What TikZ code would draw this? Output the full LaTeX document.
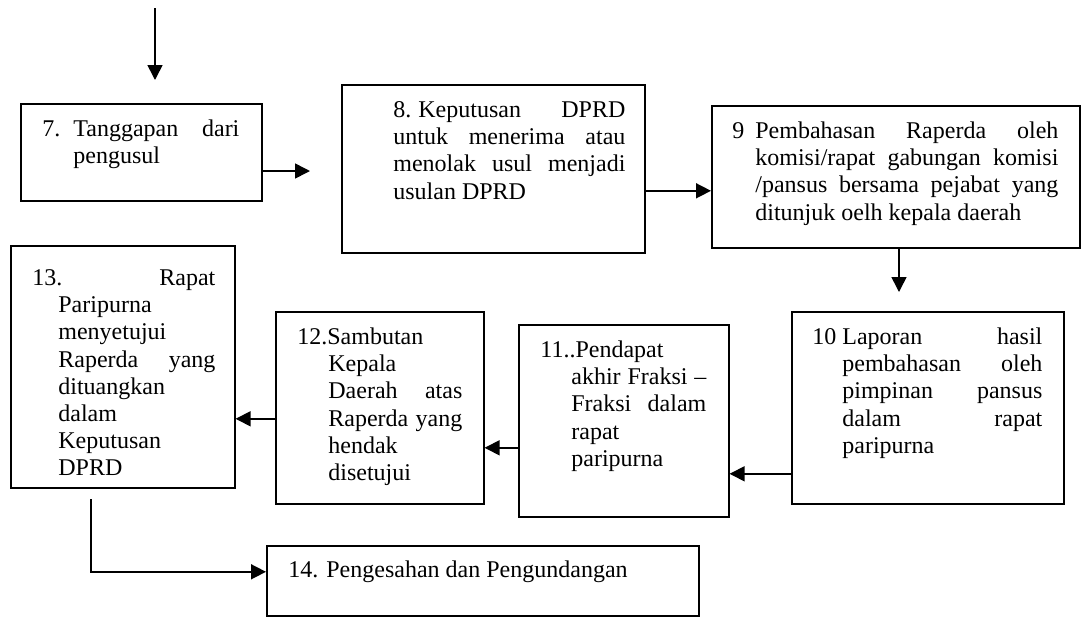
\documentclass[tikz,border=0pt]{standalone}
\usepackage{fontspec}
\setmainfont{Liberation Serif}
\usetikzlibrary{arrows.meta,calc}

\begin{document}
\begin{tikzpicture}[x=0.5pt, y=-0.5pt,
    box/.style={draw, line width=0.8pt, anchor=north west, inner sep=0pt},
    txt/.style={anchor=north west, inner sep=0pt, align=justify,
        font=\fontsize{12}{13.6}\selectfont,
        execute at begin node={\tolerance=10000\hbadness=10000\relax}},
    arr/.style={line width=0.8pt, -{Triangle[length=7.5pt,width=7.5pt]}}]
    \useasboundingbox (0,0) rectangle (1084,617);

    \node[box, minimum width=120.5pt, minimum height=48.5pt] (b7) at (20,103) {};
    \node[box, minimum width=151.5pt, minimum height=84pt] (b8) at (341,84) {};
    \node[box, minimum width=184pt, minimum height=71pt] (b9) at (711,105) {};
    \node[box, minimum width=136pt, minimum height=96pt] (b10) at (791,311) {};
    \node[box, minimum width=105pt, minimum height=96pt] (b11) at (518,324) {};
    \node[box, minimum width=104pt, minimum height=96pt] (b12) at (275,311) {};
    \node[box, minimum width=112pt, minimum height=121pt] (b13) at (10,245) {};
    \node[box, minimum width=216pt, minimum height=35pt] (b14) at (266,545) {};

    \node[txt, text width=98.5pt] (t7) at ([shift={(22,14)}]b7.north west)
        {\strut\hangindent=15.5pt\hangafter=1 \makebox[15.5pt][l]{7.}Tanggapan dari\break pengusul\par};
    \node[txt, text width=116pt] (t8) at ([shift={(52,14)}]b8.north west)
        {\strut\makebox[12.5pt][l]{8.}Keputusan DPRD\break untuk menerima atau\break menolak usul menjadi\break usulan DPRD\par};
    \node[txt, text width=163pt] (t9) at ([shift={(21,14)}]b9.north west)
        {\strut\hangindent=11.5pt\hangafter=1 \makebox[11.5pt][l]{9}Pembahasan Raperda oleh\break komisi/rapat gabungan komisi\break /pansus bersama pejabat yang\break ditunjuk oelh kepala daerah\par};
    \node[txt, text width=115pt] (t10) at ([shift={(21,14)}]b10.north west)
        {\strut\hangindent=15pt\hangafter=1 \makebox[15pt][l]{10}Laporan hasil\break pembahasan oleh\break pimpinan pansus\break dalam rapat\break paripurna\par};
    \node[txt, text width=83pt] (t11) at ([shift={(22,14)}]b11.north west)
        {\strut\hangindent=15.5pt\hangafter=1 11..Pendapat\hfil\break akhir Fraksi –\break Fraksi dalam\break rapat\hfil\break paripurna\par};
    \node[txt, text width=82.5pt] (t12) at ([shift={(22,14)}]b12.north west)
        {\strut\hangindent=15.5pt\hangafter=1 12.Sambutan\hfil\break Kepala\hfil\break Daerah atas\break Raperda yang\break hendak\hfil\break disetujui\par};
    \node[txt, text width=91.5pt] (t13) at ([shift={(22,21)}]b13.north west)
        {\strut\hangindent=13pt\hangafter=1 \makebox[13pt][l]{13.}\hfill Rapat\break Paripurna\hfil\break menyetujui\hfil\break Raperda yang\break dituangkan\hfil\break dalam\hfil\break Keputusan\hfil\break DPRD\par};
    \node[txt, text width=190pt] (t14) at ([shift={(22,13)}]b14.north west)
        {\strut 14. Pengesahan dan Pengundangan\par};

    \coordinate (in7) at (155,8);
    \coordinate (end7) at (155,80);
    \coordinate (end78) at (310,171);
    \coordinate (end910) at (899,292);
    \coordinate (start14) at (91,499);

    \draw[arr] (in7) -- (end7);
    \draw[arr] (b7.east |- end78) -- (end78);
    \draw[arr] ([yshift=-11pt]b8.east) -- ([yshift=-11pt]b8.east -| b9.west);
    \draw[arr] (b9.south -| end910) -- (end910);
    \draw[arr] ([yshift=-33pt]b10.west) -- ([yshift=-33pt]b10.west -| b11.east);
    \draw[arr] ([yshift=-13.5pt]b11.west) -- ([yshift=-13.5pt]b11.west -| b12.east);
    \draw[arr] ([yshift=-5.5pt]b12.west) -- ([yshift=-5.5pt]b12.west -| b13.east);
    \draw[arr] (start14) |- ([yshift=4.5pt]b14.west);
\end{tikzpicture}
\end{document}
